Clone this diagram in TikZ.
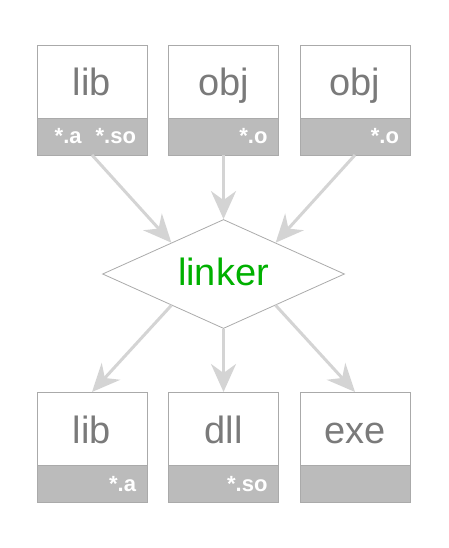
\documentclass[tikz,border=0pt]{standalone}
\usepackage{fontspec}
\setmainfont{Liberation Sans}
\usetikzlibrary{arrows.meta,positioning,shapes.geometric}
\definecolor{boxline}{HTML}{AAAAAA}
\definecolor{tagfill}{HTML}{BBBBBB}
\definecolor{arrowgray}{HTML}{D4D4D4}
\definecolor{textgray}{HTML}{7A7A7A}
\definecolor{linkgreen}{HTML}{00B000}

\begin{document}
\begin{tikzpicture}[x=1pt,y=-1pt,
	file/.style={rectangle, draw=boxline, line width=0.8pt, outer sep=0pt, minimum width=110pt, minimum height=73pt, inner sep=0pt, text height=31pt, text depth=2pt, text=textgray, font=\fontsize{38}{38}\selectfont},
	tag/.style={rectangle, draw=boxline, fill=tagfill, line width=0.8pt, outer sep=0pt, minimum width=110pt, minimum height=37pt, inner xsep=11pt, inner ysep=0pt, text width=88pt, text height=15pt, text depth=0pt, align=right, text=white, font=\fontsize{22}{22}\selectfont\bfseries},
	link/.style={diamond, draw=boxline, line width=0.8pt, aspect=2.2, minimum width=242pt, minimum height=109pt, inner sep=0pt, text height=24pt, text depth=2pt, text=linkgreen, font=\fontsize{38}{38}\selectfont},
	flow/.style={-{Stealth[length=28pt,width=25pt,inset=9pt]}, draw=arrowgray, line width=3pt}]
		\useasboundingbox (0,0) rectangle (448,548);

		\node[file] (libIn) at (92,81.5) {lib};
		\node[tag, below=0pt of libIn] (libInTag) {*.a\hspace{14pt}*.so};
		\node[file] (objA) at (223.5,81.5) {obj};
		\node[tag, below=0pt of objA] (objATag) {*.o};
		\node[file] (objB) at (355,81.5) {obj};
		\node[tag, below=0pt of objB] (objBTag) {*.o};

		\node[link] (linker) at (223.5,274) {linker};

		\node[file] (libOut) at (92,428.5) {lib};
		\node[tag, below=0pt of libOut] (libOutTag) {*.a};
		\node[file] (dll) at (223.5,428.5) {dll};
		\node[tag, below=0pt of dll] (dllTag) {*.so};
		\node[file] (exe) at (355,428.5) {exe};
		\node[tag, below=0pt of exe] (exeTag) {};

		\draw[flow] (libInTag.south) -- (linker.149);
		\draw[flow] (objATag.south) -- (linker.north);
		\draw[flow] (objBTag.south) -- (linker.31);

		\draw[flow] (linker.211) -- (libOut.north);
		\draw[flow] (linker.south) -- (dll.north);
		\draw[flow] (linker.329) -- (exe.north);
	\end{tikzpicture}
\end{document}
